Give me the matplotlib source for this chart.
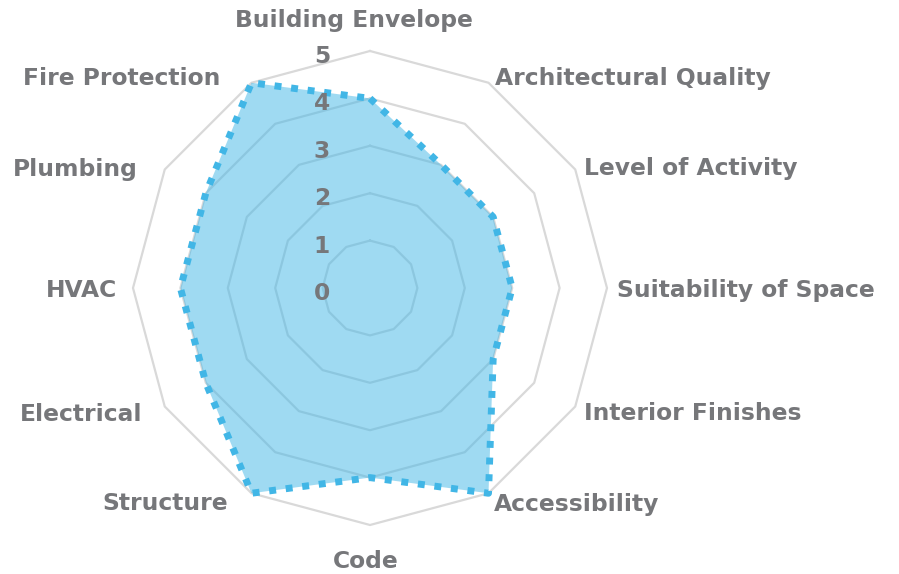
import numpy as np
import matplotlib
matplotlib.use("Agg")
import matplotlib.pyplot as plt

categories = ["Building Envelope", "Architectural Quality", "Level of Activity",
              "Suitability of Space", "Interior Finishes", "Accessibility", "Code",
              "Structure", "Electrical", "HVAC", "Plumbing", "Fire Protection"]
values = [4, 3, 3, 3, 3, 5, 4, 5, 4, 4, 4, 5]
tick_values = [0, 1, 2, 3, 4, 5]

# label placement (pixel offsets from outer vertex) and alignment
label_offsets = [(-16, 24), (6.5, -2), (9, -6), (10, -9.5), (9, -14), (5.5, -18),
                 (-4, -43.5), (-23.5, -17), (-22, -14), (-16, -8.5), (-27, -6), (-31.5, -2.3)]
label_ha = ["center", "left", "left", "left", "left", "left",
            "center", "right", "right", "right", "right", "right"]

LINE = "#41b6e6"
GRID = "#d9d9d9"
TEXT = "#76777a"
FONT = "DejaVu Sans"
FS = 16.8

W, H = 899, 574
cx, cy, R = 370, 288, 237

fig = plt.figure(figsize=(W / 100, H / 100), dpi=100)
ax = fig.add_axes([(cx - R) / W, (H - cy - R) / H, 2 * R / W, 2 * R / H], projection="polar")
ax.set_theta_zero_location("N")
ax.set_theta_direction(-1)
ax.set_ylim(0, 5)
ax.set_xticks([])
ax.set_yticks([])
ax.grid(False)
ax.spines["polar"].set_visible(False)
ax.patch.set_visible(False)

n = len(categories)
angles = np.linspace(0, 2 * np.pi, n, endpoint=False)
ang_c = np.concatenate([angles, angles[:1]])

for r in tick_values[1:]:
    ax.plot(ang_c, [r] * (n + 1), color=GRID, lw=1.6, zorder=1, clip_on=False)

vals_c = np.concatenate([values, values[:1]])
ax.fill(ang_c, vals_c, color=LINE, alpha=0.5, lw=0, zorder=2, clip_on=False)
ax.plot(ang_c, vals_c, color=LINE, lw=5.0, linestyle=(0, (1.0, 1.4)),
        dash_capstyle="butt", zorder=3, clip_on=False)

for a, lab, off, ha in zip(angles, categories, label_offsets, label_ha):
    ax.annotate(lab, xy=(a, 5), xytext=off, textcoords="offset pixels",
                ha=ha, va="baseline", fontsize=FS, fontweight="bold",
                family=FONT, color=TEXT, annotation_clip=False)

for t in tick_values:
    ax.annotate(str(t), xy=(0, t), xytext=(-48, -12), textcoords="offset pixels",
                ha="center", va="baseline", fontsize=FS, fontweight="bold",
                family=FONT, color=TEXT, zorder=4, annotation_clip=False)

fig.savefig("out.png", dpi=100)
